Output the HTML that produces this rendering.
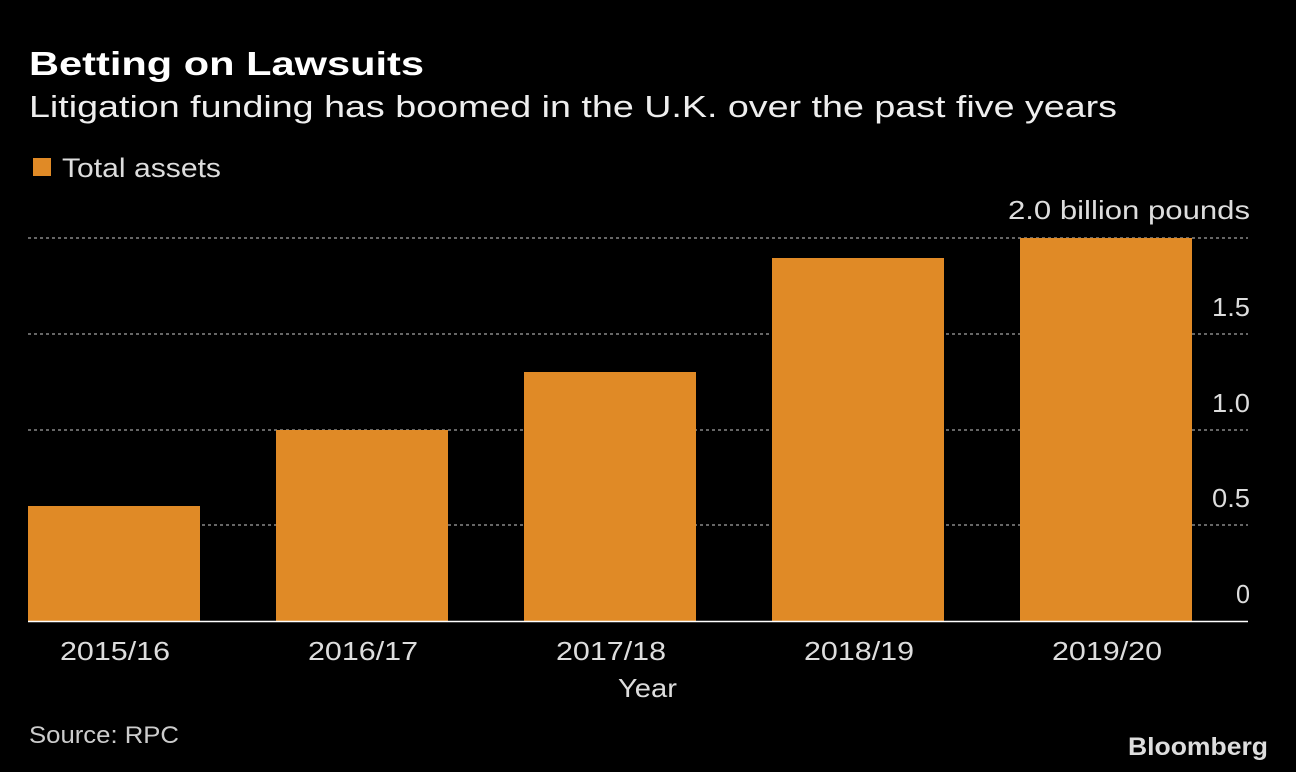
<!DOCTYPE html>
<html><head><meta charset="utf-8"><style>
body{margin:0;background:#000;width:1296px;height:772px;overflow:hidden}
</style></head><body>
<svg width="1296" height="772" style="position:absolute;left:0;top:0" font-family="Liberation Sans, sans-serif">
<text x="29" y="75" fill="#fff" font-size="33" font-weight="bold" textLength="395" lengthAdjust="spacingAndGlyphs">Betting on Lawsuits</text>
<text x="29" y="117" fill="#eee" font-size="31" textLength="1088" lengthAdjust="spacingAndGlyphs">Litigation funding has boomed in the U.K. over the past five years</text>
<rect x="33" y="158" width="18" height="18" fill="#e08a26"/>
<text x="62" y="177" fill="#ddd" font-size="27" textLength="159" lengthAdjust="spacingAndGlyphs">Total assets</text>
<g stroke="#888" stroke-dasharray="3,3" stroke-width="1.5">
<line x1="28" y1="238" x2="1248" y2="238"/><line x1="28" y1="334" x2="1248" y2="334"/>
<line x1="28" y1="430" x2="1248" y2="430"/><line x1="28" y1="525" x2="1248" y2="525"/>
</g>
<g fill="#e08a26">
<rect x="28" y="506" width="172" height="115"/>
<rect x="276" y="430" width="172" height="191"/>
<rect x="524" y="372" width="172" height="249"/>
<rect x="772" y="258" width="172" height="363"/>
<rect x="1020" y="238" width="172" height="383"/>
</g>
<line x1="28" y1="621.5" x2="1248" y2="621.5" stroke="#fff" stroke-width="1.5"/>
<g fill="#ddd" font-size="26">
<text x="1008" y="219" textLength="242" lengthAdjust="spacingAndGlyphs">2.0 billion pounds</text>
<text x="1212" y="316" textLength="38" lengthAdjust="spacingAndGlyphs">1.5</text>
<text x="1212" y="412" textLength="38" lengthAdjust="spacingAndGlyphs">1.0</text>
<text x="1212" y="507" textLength="38" lengthAdjust="spacingAndGlyphs">0.5</text>
<text x="1236" y="603" textLength="14" lengthAdjust="spacingAndGlyphs">0</text>
<text x="60" y="660" textLength="110" lengthAdjust="spacingAndGlyphs">2015/16</text>
<text x="308" y="660" textLength="110" lengthAdjust="spacingAndGlyphs">2016/17</text>
<text x="556" y="660" textLength="110" lengthAdjust="spacingAndGlyphs">2017/18</text>
<text x="804" y="660" textLength="110" lengthAdjust="spacingAndGlyphs">2018/19</text>
<text x="1052" y="660" textLength="110" lengthAdjust="spacingAndGlyphs">2019/20</text>
<text x="618" y="697" textLength="59" lengthAdjust="spacingAndGlyphs">Year</text>
</g>
<text x="29" y="743" fill="#ccc" font-size="24" textLength="150" lengthAdjust="spacingAndGlyphs">Source: RPC</text>
<text x="1128" y="755" fill="#ddd" font-size="25" font-weight="bold" textLength="140" lengthAdjust="spacingAndGlyphs">Bloomberg</text>
</svg>
</body></html>
